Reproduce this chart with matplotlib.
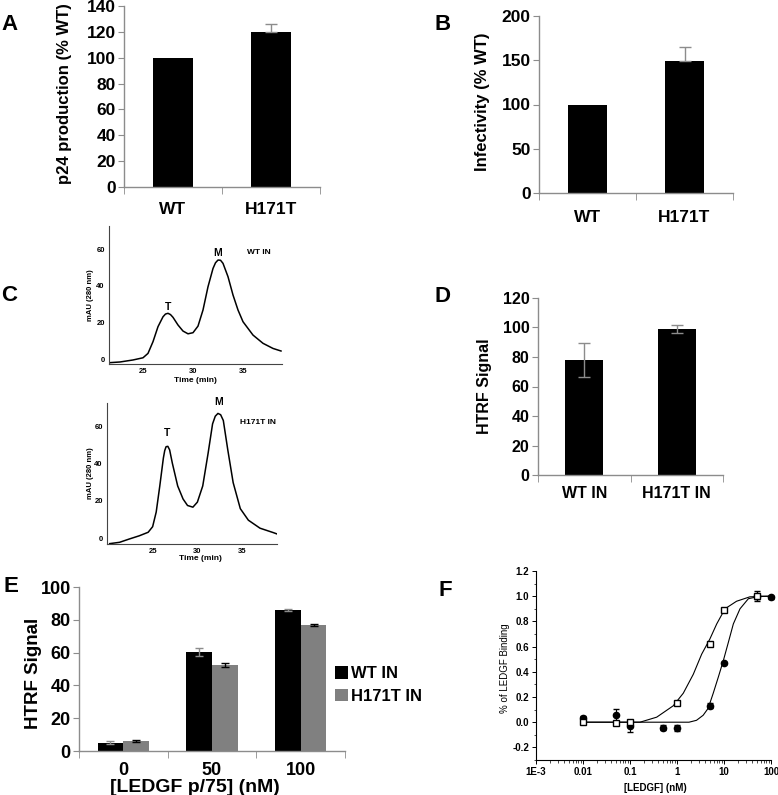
import matplotlib
matplotlib.use('Agg')
import matplotlib.pyplot as plt
import numpy as np

plt.rcParams['font.family'] = ['Liberation Sans', 'DejaVu Sans']

# ---------------- data ----------------
a_labels = ['WT', 'H171T']
a_values = [100, 120]
a_err = [0, 6]

b_labels = ['WT', 'H171T']
b_values = [100, 149]
b_err = [0, 16]

c_wt_time = [21.6, 22.7, 24.0, 25.0, 25.5, 26.0, 26.5, 27.0, 27.25, 27.5, 27.75, 28.0, 28.5, 29.0,
             29.5, 30.0, 30.5, 31.0, 31.5, 32.0, 32.25, 32.5, 32.75, 33.0, 33.5, 34.0, 34.5, 35.0,
             36.0, 37.0, 38.0, 38.8]
c_wt_mau = [-2.0, -1.6, -0.5, 0.7, 3.1, 9.5, 17.7, 23.1, 24.6, 25.0, 24.3, 22.8, 18.6, 15.3,
            13.8, 14.4, 18.0, 26.8, 39.5, 49.5, 52.6, 54.1, 54.0, 52.3, 45.0, 35.0, 26.8, 20.4,
            13.1, 8.6, 5.8, 4.4]

c_h_time = [20.2, 21.3, 22.4, 23.5, 24.5, 25.0, 25.4, 25.8, 26.2, 26.35, 26.5, 26.7, 26.9, 27.2,
            27.8, 28.4, 28.9, 29.5, 30.0, 30.6, 31.2, 31.7, 32.0, 32.3, 32.6, 32.9, 33.4, 34.0,
            34.8, 35.7, 37.0, 38.5, 38.9]
c_h_mau = [-3.0, -2.3, -0.5, 1.2, 3.1, 6.1, 14.0, 28.0, 43.0, 47.0, 49.1, 49.3, 47.4, 40.3,
           28.0, 21.0, 17.5, 16.6, 19.3, 28.0, 45.6, 61.4, 65.5, 67.0, 66.3, 63.2, 47.4, 29.8,
           15.8, 9.6, 5.3, 2.9, 2.2]

d_labels = ['WT IN', 'H171T IN']
d_values = [78, 99]
d_err = [11.5, 2.5]

e_groups = ['0', '50', '100']
e_wt = [5, 60.5, 86]
e_wt_err = [1.0, 2.5, 0.7]
e_h = [6, 52.5, 77]
e_h_err = [0.7, 1.2, 0.5]
e_series = ['WT IN', 'H171T IN']

f_sq_x = [0.01, 0.05, 0.1, 1, 5, 10, 50]
f_sq_y = [0.0, -0.01, 0.0, 0.155, 0.62, 0.89, 1.0]
f_sq_err = [0.015, 0.01, 0.01, 0.01, 0.015, 0.01, 0.02]
f_ci_x = [0.01, 0.05, 0.1, 0.5, 1, 5, 10, 50, 100]
f_ci_y = [0.03, 0.055, -0.03, -0.045, -0.045, 0.13, 0.47, 1.0, 0.99]
f_ci_err = [0.02, 0.05, 0.05, 0.02, 0.025, 0.02, 0.01, 0.04, 0.01]
f_sq_fit_x = [0.01, 0.163, 0.37, 0.83, 1.36, 2.22, 3.35, 5.0, 7.0, 10.5, 18.5, 35.5, 100]
f_sq_fit_y = [0.0, 0.0, 0.04, 0.13, 0.23, 0.38, 0.54, 0.66, 0.78, 0.90, 0.96, 0.995, 1.0]
f_ci_fit_x = [0.01, 1.8, 2.6, 3.6, 4.6, 5.9, 7.6, 9.7, 12.3, 15.8, 21.9, 33, 58, 100]
f_ci_fit_y = [0.0, 0.0, 0.015, 0.055, 0.11, 0.23, 0.36, 0.49, 0.63, 0.78, 0.90, 0.98, 1.0, 1.0]

# ---------------- figure ----------------
W, H = 778, 795
fig = plt.figure(figsize=(W / 100, H / 100), dpi=100)


def add_ax(x0, y0, x1, y1):
    return fig.add_axes([x0 / W, 1 - y1 / H, (x1 - x0) / W, (y1 - y0) / H])


def ftext(x, y, s, **kw):
    kw.setdefault('ha', 'center')
    kw.setdefault('va', 'center')
    fig.text(x / W, 1 - y / H, s, **kw)


GRAY = '#8c8c8c'


def excel_axes(ax, labels, ymax, step, fs, pad):
    n = len(labels)
    ax.set_xlim(-0.5, n - 0.5)
    ax.set_ylim(0, ymax)
    for s in ['top', 'right']:
        ax.spines[s].set_visible(False)
    for s in ['left', 'bottom']:
        ax.spines[s].set_color(GRAY)
        ax.spines[s].set_linewidth(1.0)
    ax.set_yticks(np.arange(0, ymax + 0.1, step))
    ax.tick_params(axis='y', direction='out', length=4, color=GRAY, labelsize=fs, pad=2)
    ax.set_xticks(range(n))
    ax.set_xticklabels(labels)
    ax.tick_params(axis='x', which='major', length=0, labelsize=fs, pad=pad)
    ax.set_xticks(np.arange(-0.5, n, 1), minor=True)
    ax.tick_params(axis='x', which='minor', length=5, direction='out', color=GRAY)
    for t in ax.get_xticklabels() + ax.get_yticklabels():
        t.set_fontweight('bold')


def upper_err(ax, values, errs):
    idx = [i for i, e in enumerate(errs) if e > 0]
    ax.errorbar(idx, [values[i] for i in idx], yerr=[[0] * len(idx), [errs[i] for i in idx]],
                fmt='none', ecolor=GRAY, elinewidth=1, capsize=4, zorder=3)


# ---- Panel A ----
axA = add_ax(124, 6, 320, 187)
axA.bar(range(len(a_values)), a_values, width=0.4, color='black', zorder=2)
upper_err(axA, a_values, a_err)
excel_axes(axA, a_labels, 140, 20, 12.5, 11)
ftext(65, 94, 'p24 production (% WT)', rotation=90, fontsize=12, fontweight='bold')
ftext(9, 25, 'A', fontsize=16, fontweight='bold')

# ---- Panel B ----
axB = add_ax(539, 16, 733, 193)
axB.bar(range(len(b_values)), b_values, width=0.4, color='black', zorder=2)
upper_err(axB, b_values, b_err)
excel_axes(axB, b_labels, 200, 50, 12.5, 12)
ftext(483, 102, 'Infectivity (% WT)', rotation=90, fontsize=12, fontweight='bold')
ftext(443, 25, 'B', fontsize=16, fontweight='bold')


# ---- Panel C ----
def chrom_axes(ax, xlim, ylim):
    ax.set_xlim(*xlim)
    ax.set_ylim(*ylim)
    for s in ['top', 'right']:
        ax.spines[s].set_visible(False)
    for s in ['left', 'bottom']:
        ax.spines[s].set_color('#444444')
        ax.spines[s].set_linewidth(0.8)
    ax.set_xticks([25, 30, 35])
    ax.set_yticks([0, 20, 40, 60])
    ax.tick_params(length=0, labelsize=5.5, pad=3)
    for t in ax.get_xticklabels() + ax.get_yticklabels():
        t.set_fontweight('bold')


axC1 = add_ax(109, 226, 282, 364)
axC1.plot(c_wt_time, c_wt_mau, color='black', lw=1.1, solid_joinstyle='round')
chrom_axes(axC1, (21.6, 38.9), (-2.7, 72.7))
ftext(168, 307, 'T', fontsize=7.5, fontweight='bold')
ftext(218, 253, 'M', fontsize=7.5, fontweight='bold')
ftext(259, 252, 'WT IN', fontsize=6, fontweight='bold')
ftext(90, 295, 'mAU (280 nm)', rotation=90, fontsize=5.5, fontweight='bold')
ftext(195, 380, 'Time (min)', fontsize=6, fontweight='bold')
ftext(9, 296, 'C', fontsize=16, fontweight='bold')

axC2 = add_ax(107, 403, 277, 544)
axC2.plot(c_h_time, c_h_mau, color='black', lw=1.1, solid_joinstyle='round')
chrom_axes(axC2, (19.9, 38.9), (-3.2, 72.6))
ftext(167, 433, 'T', fontsize=7.5, fontweight='bold')
ftext(219, 402, 'M', fontsize=7.5, fontweight='bold')
ftext(258, 423, 'H171T IN', fontsize=6, fontweight='bold')
ftext(90, 473, 'mAU (280 nm)', rotation=90, fontsize=5.5, fontweight='bold')
ftext(200, 558, 'Time (min)', fontsize=6, fontweight='bold')

# ---- Panel D ----
axD = add_ax(538, 298, 723, 475)
axD.bar(range(len(d_values)), d_values, width=0.41, color='black', zorder=2)
axD.errorbar(range(len(d_values)), d_values, yerr=d_err, fmt='none',
             ecolor=GRAY, elinewidth=1, capsize=4, zorder=3)
excel_axes(axD, d_labels, 120, 20, 11.5, 8)
ftext(485, 386, 'HTRF Signal', rotation=90, fontsize=11.5, fontweight='bold')
ftext(443, 297, 'D', fontsize=16, fontweight='bold')

# ---- Panel E ----
axE = add_ax(79, 587, 345, 751)
xe = np.arange(len(e_groups))
bw = 0.29
axE.bar(xe - bw / 2, e_wt, width=bw, color='black', label=e_series[0], zorder=2)
axE.bar(xe + bw / 2, e_h, width=bw, color='#808080', label=e_series[1], zorder=2)
axE.errorbar(xe - bw / 2, e_wt, yerr=e_wt_err, fmt='none', ecolor=GRAY, elinewidth=1,
             capsize=3, zorder=3)
axE.errorbar(xe + bw / 2, e_h, yerr=e_h_err, fmt='none', ecolor='black', elinewidth=1,
             capsize=3, zorder=3)
excel_axes(axE, e_groups, 100, 20, 13, 8)
axE.legend(loc='center left', bbox_to_anchor=(335 / W, 1 - 685 / H),
           bbox_transform=fig.transFigure, frameon=False, handlelength=0.75,
           handleheight=0.75, handletextpad=0.2, labelspacing=0.45, borderpad=0,
           borderaxespad=0, prop={'size': 12, 'weight': 'bold'})
ftext(33, 673, 'HTRF Signal', rotation=90, fontsize=13.5, fontweight='bold')
ftext(195, 787, '[LEDGF p/75] (nM)', fontsize=14, fontweight='bold')
ftext(11, 587, 'E', fontsize=16, fontweight='bold')

# ---- Panel F ----
axF = add_ax(536, 571, 771, 760)
axF.set_xscale('log')
axF.plot(f_sq_fit_x, f_sq_fit_y, color='black', lw=0.8, zorder=2)
axF.plot(f_ci_fit_x, f_ci_fit_y, color='black', lw=0.8, zorder=2)
sq = axF.errorbar(f_sq_x, f_sq_y, yerr=f_sq_err, fmt='s', ms=4, mfc='white', mec='black',
                  mew=1.0, ecolor='black', elinewidth=0.8, capsize=2, zorder=4)
ci = axF.errorbar(f_ci_x, f_ci_y, yerr=f_ci_err, fmt='o', ms=4.5, mfc='black', mec='black',
                  ecolor='black', elinewidth=0.8, capsize=2, zorder=3)
for container in (sq, ci):
    for art in container.lines[0:1] + tuple(container.lines[1]) + tuple(container.lines[2]):
        if art is not None:
            art.set_clip_on(False)
axF.set_xlim(1e-3, 100)
axF.set_ylim(-0.3, 1.2)
for s in ['top', 'right']:
    axF.spines[s].set_visible(False)
for s in ['left', 'bottom']:
    axF.spines[s].set_linewidth(0.8)
axF.set_xticks([1e-3, 1e-2, 1e-1, 1, 10, 100])
axF.set_xticklabels(['1E-3', '0.01', '0.1', '1', '10', '100'])
yt = np.round(np.arange(-0.2, 1.21, 0.2), 1)
axF.set_yticks(yt)
axF.set_yticklabels(['%.1f' % v for v in yt])
axF.set_yticks(np.round(np.arange(-0.3, 1.21, 0.1), 1), minor=True)
axF.tick_params(which='major', direction='out', length=3, width=0.7, labelsize=7, pad=2)
axF.tick_params(which='minor', direction='out', length=1.8, width=0.5)
for t in axF.get_xticklabels() + axF.get_yticklabels():
    t.set_fontweight('bold')
ftext(505, 668, '% of LEDGF Binding', rotation=90, fontsize=7)
ftext(655, 788, '[LEDGF] (nM)', fontsize=7, fontweight='bold')
ftext(445, 591, 'F', fontsize=16, fontweight='bold')

fig.savefig('out.png', dpi=100)
